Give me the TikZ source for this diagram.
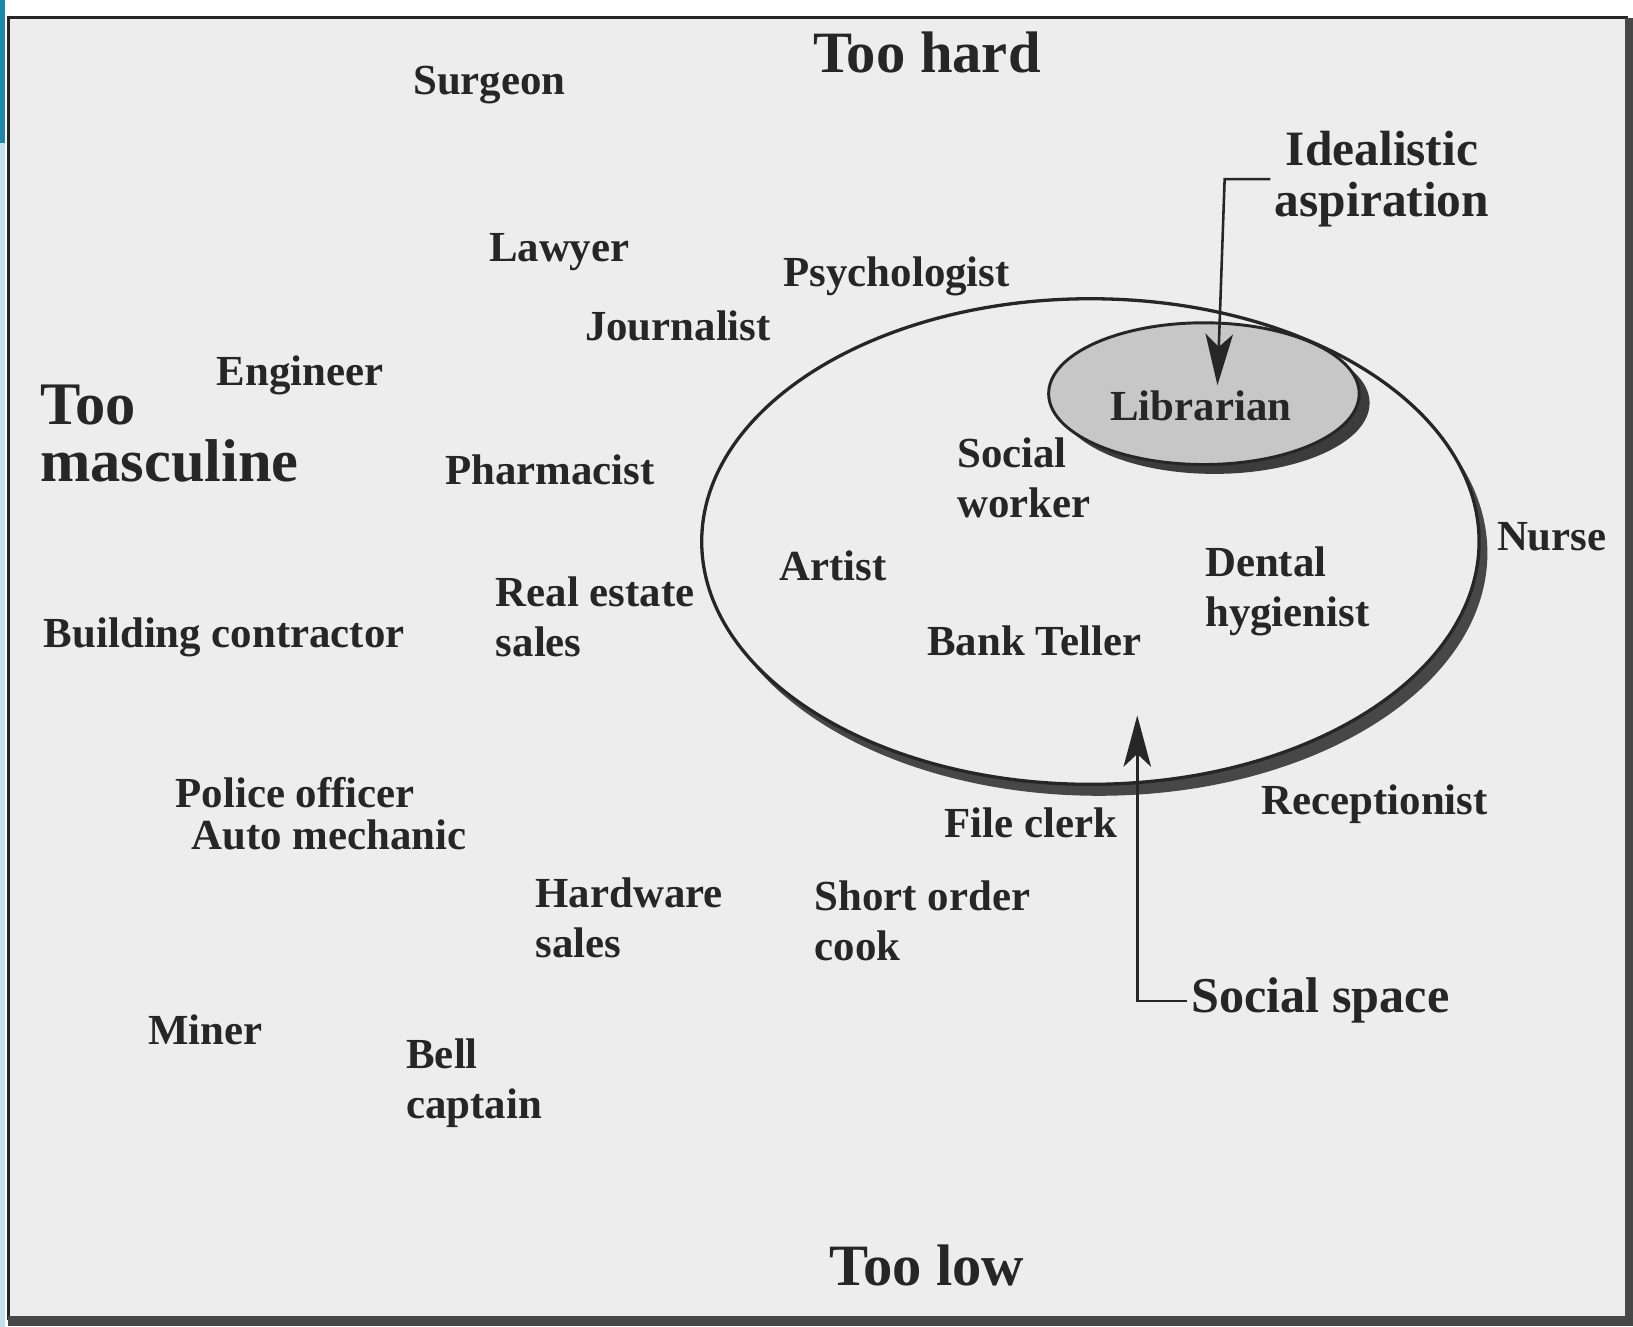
\documentclass[tikz,border=0pt]{standalone}
\usepackage{fontspec}
\setmainfont{Liberation Serif}
\usepackage{xcolor}
\usepackage{tikz}
\usetikzlibrary{arrows.meta}
\definecolor{paper}{gray}{0.93}
\definecolor{ink}{gray}{0.15}
\definecolor{stripdark}{RGB}{30,136,172}
\definecolor{striplight}{RGB}{196,224,240}
\tikzset{
  job/.style={font=\bfseries\fontsize{11.7}{13.7}\selectfont, text=ink, inner sep=1pt, align=left},
  headline/.style={font=\bfseries\fontsize{16}{18}\selectfont, text=ink, inner sep=1pt},
  pointer/.style={draw=ink, line width=0.7pt, -{Stealth[length=14pt,width=7.5pt,inset=3.5pt]}},
  space/.style={x radius=3.73cm, y radius=2.33cm},
  aim/.style={x radius=1.49cm, y radius=0.68cm}
}

\begin{document}
\begin{tikzpicture}[x=0.01cm, y=-0.01cm]
      \useasboundingbox (0,0) rectangle (1568,1274);
      \fill[white] (0,0) rectangle (1568,1274);
      \fill[stripdark] (0,0) rectangle (5,137);
      \fill[striplight] (0,137) rectangle (5,1274);
      \fill[paper] (8,17) rectangle (1562,1266);
      \draw[ink, line width=0.9pt] (8,17) rectangle (1562,1266);
      \draw[ink!85, line width=2.5pt] (1564.5,17) -- (1564.5,1268.5) -- (8,1268.5);

      \fill[ink!85] (1055,531) ellipse [space];
      \fill[paper] (1047,520) ellipse [space];
      \fill[ink!90] (1166,387) ellipse [aim];
      \draw[ink, fill=black!22, line width=0.8pt] (1156,378) ellipse [aim];
      \draw[ink, line width=0.9pt] (1047,520) ellipse [space];

      \node[headline] (toohard) at (890,50) {Too hard};
      \node[job] (surgeon) at (470,82) {Surgeon};
      \node[job, font=\bfseries\fontsize{13.5}{14}\selectfont, align=center] (ideal) at (1327,172) {Idealistic\\aspiration};
      \node[job] (lawyer) at (537,242) {Lawyer};
      \node[job] (psych) at (861,265) {Psychologist};
      \node[job] (journalist) at (651,313) {Journalist};
      \node[job] (engineer) at (288,360) {Engineer};
      \node[headline, font=\bfseries\fontsize{16.5}{15.5}\selectfont, align=left, anchor=west, inner sep=0pt] (toomasc) at (38,416) {Too\\masculine};
      \node[job] (librarian) at (1153,390) {Librarian};
      \node[job] (pharmacist) at (528,451) {Pharmacist};
      \node[job, anchor=west] (socialworker) at (915,459) {Social\\worker};
      \node[job] (nurse) at (1490,515) {Nurse};
      \node[job] (artist) at (800,543) {Artist};
      \node[job, anchor=west] (dental) at (1153,568) {Dental\\hygienist};
      \node[job, anchor=west] (realestate) at (472,592) {Real estate\\sales};
      \node[job, anchor=west] (building) at (38,612) {Building contractor};
      \node[job] (bankteller) at (993,615) {Bank Teller};
      \node[job, anchor=west, inner sep=0pt] (police) at (168,761) {Police officer};
      \node[job, anchor=west, inner sep=0pt] (auto) at (183,802) {Auto mechanic};
      \node[job] (fileclerk) at (990,790) {File clerk};
      \node[job] (receptionist) at (1320,772) {Receptionist};
      \node[job, anchor=west] (hardware) at (510,881) {Hardware\\sales};
      \node[job, anchor=west] (shortorder) at (778,884) {Short order\\cook};
      \node[job, font=\bfseries\fontsize{13.7}{16}\selectfont] (socialspace) at (1268,961) {Social space};
      \node[job] (miner) at (197,989) {Miner};
      \node[job, anchor=west] (bell) at (386,1040) {Bell\\captain};
      \node[headline] (toolow) at (890,1215) {Too low};

      \coordinate (libtip) at (1169,370);
      \coordinate (spacetip) at (1092,687);
      \draw[pointer] (ideal.west) -- ++(-44,0) -- (libtip);
      \draw[pointer] (socialspace.west) -| (spacetip);
\end{tikzpicture}
\end{document}
